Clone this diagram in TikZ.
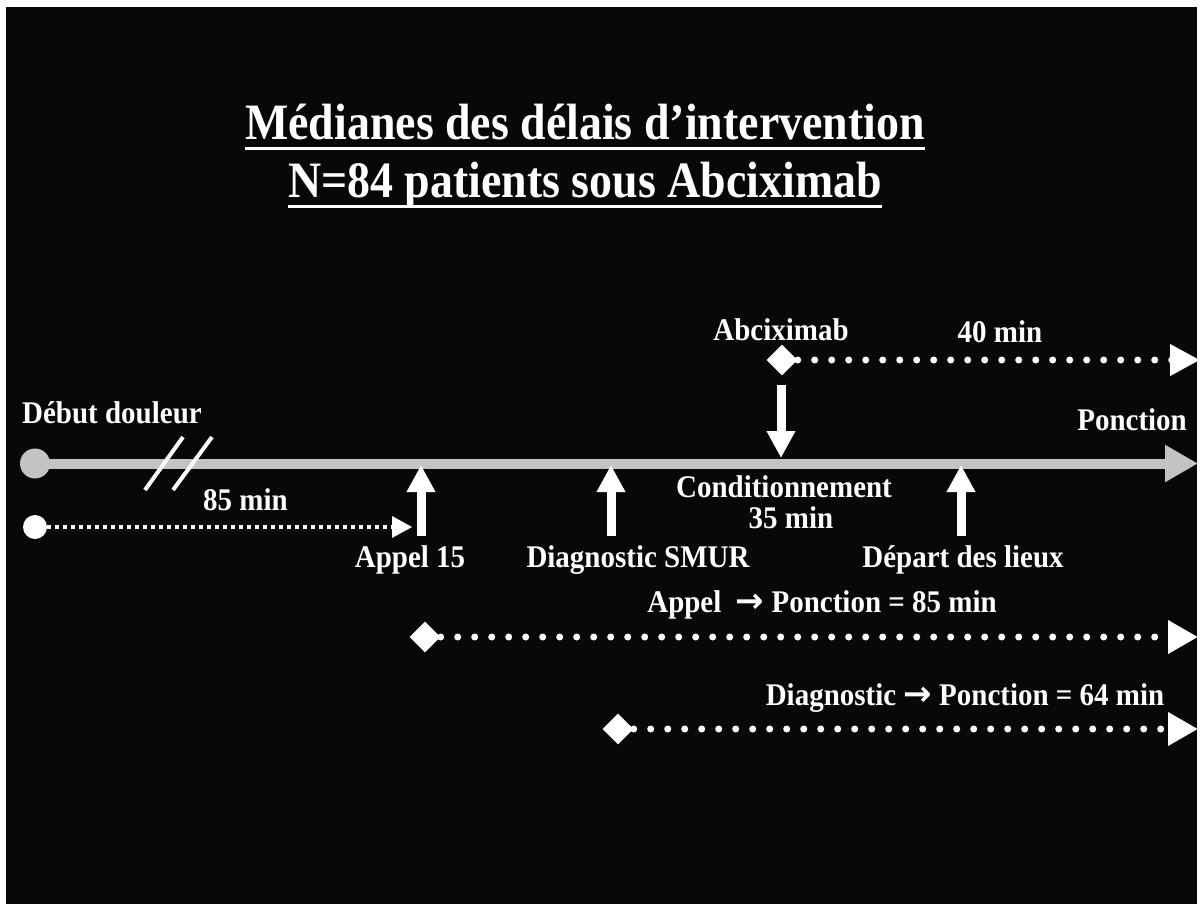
\documentclass[tikz,border=0pt]{standalone}
\usepackage{fontspec}
\setmainfont{Liberation Serif}
\newfontfamily\lblfont[FakeStretch=0.92]{Liberation Serif}
\newfontfamily\ttlfont[FakeStretch=0.9]{Liberation Serif}
\newfontfamily\arrowfont{DejaVu Sans}
\usetikzlibrary{arrows.meta,shapes.geometric}
\definecolor{bargray}{RGB}{195,195,195}
\definecolor{bg}{RGB}{8,8,8}
\begin{document}
\begin{tikzpicture}[x=1pt,y=-1pt,
  lbl/.style={text=white,font=\lblfont\fontsize{31.5}{34}\selectfont\bfseries,inner sep=0pt},
  ttl/.style={text=white,font=\ttlfont\fontsize{51}{55}\selectfont\bfseries,inner sep=0pt,anchor=base},
  blockarrow/.style={white,line width=9pt,-{Triangle[width=27pt,length=27pt]}},
  rounddots/.style={white,line width=7pt,line cap=round,dash pattern=on 0pt off 17pt},
  sqdots/.style={white,line width=4pt,dash pattern=on 4pt off 4pt},
  dia/.style={diamond,fill=white,draw=none,minimum size=31pt,inner sep=0pt},
  ularrow/.style={-{Triangle[width=32pt,length=30pt]}}
]
\useasboundingbox (0,0) rectangle (1201,904);
\fill[white] (0,0) rectangle (1201,904);
\fill[bg] (6,7) rectangle (1197,904);

% title
\node[ttl] (t1) at (585,140) {Médianes des délais d’intervention};
\node[ttl] (t2) at (585,197) {N=84 patients sous Abciximab};
\draw[white,line width=3pt] ([yshift=-9pt]t1.base west) -- ([yshift=-9pt]t1.base east);
\draw[white,line width=3pt] ([yshift=-9pt]t2.base west) -- ([yshift=-9pt]t2.base east);

% timeline
\node[circle,fill=bargray,minimum size=30pt,inner sep=0pt] (start) at (35,463.5) {};
\coordinate (tend) at (1198,463.5);
\draw[bargray,line width=10pt,-{Triangle[width=35pt,length=33pt]}] (start.center) -- (tend);
\draw[white,line width=4pt] (145,490) -- (183,437);
\draw[white,line width=4pt] (173,490) -- (212,437);

\node[lbl,anchor=base west] (debut) at (22,423) {Début douleur};
\node[lbl,anchor=base east] (ponction) at (1187,430) {Ponction};

% 85 min from onset
\node[circle,fill=white,minimum size=24pt,inner sep=0pt] (onset) at (35,527) {};
\coordinate (onsetend) at (412,527);
\draw[sqdots] (onset.east) -- ([xshift=-20pt]onsetend);
\fill[white] (onsetend) -- ++(-20,-11) -- ++(0,22) -- cycle;
\node[lbl,anchor=base west] (m85) at (203,510) {85 min};

% up arrows
\coordinate (appelB) at (421,536);
\coordinate (appelT) at (421,465);
\draw[blockarrow] (appelB) -- (appelT);
\node[lbl,anchor=base] (appel) at (410,567) {Appel 15};

\coordinate (diagB) at (611,536);
\coordinate (diagT) at (611,465);
\draw[blockarrow] (diagB) -- (diagT);
\node[lbl,anchor=base] (diag) at (638,567) {Diagnostic SMUR};

\coordinate (depB) at (961,536);
\coordinate (depT) at (961,465);
\draw[blockarrow] (depB) -- (depT);
\node[lbl,anchor=base] (dep) at (963,567) {Départ des lieux};

% Abciximab
\node[lbl,anchor=base] (abci) at (781,340) {Abciximab};
\node[dia] (dabci) at (782,360) {};
\coordinate (abciend) at (1200,360);
\draw[rounddots,-{Triangle[width=30pt,length=30pt]}] (dabci.east) -- (abciend);
\node[lbl,anchor=base] (m40) at (1000,342) {40 min};
\coordinate (downT) at (781,385);
\coordinate (downB) at (781,458);
\draw[blockarrow] (downT) -- (downB);
\node[lbl,anchor=base] (cond) at (784,497) {Conditionnement};
\node[lbl,anchor=base] (m35) at (791,528) {35 min};

% Appel -> Ponction
\node[lbl,anchor=base] (ap) at (822,612) {Appel \ {\arrowfont\bfseries\fontsize{34}{34}\selectfont →} Ponction = 85 min};
\node[dia] (dap) at (425,637) {};
\coordinate (apend) at (1198,637);
\draw[rounddots,ularrow] (dap.east) -- (apend);

% Diagnostic -> Ponction
\node[lbl,anchor=base] (dp) at (965,705) {Diagnostic {\arrowfont\bfseries\fontsize{34}{34}\selectfont →} Ponction = 64 min};
\node[dia] (ddp) at (618,729) {};
\coordinate (dpend) at (1198,729);
\draw[rounddots,ularrow] (ddp.east) -- (dpend);
\end{tikzpicture}
\end{document}
